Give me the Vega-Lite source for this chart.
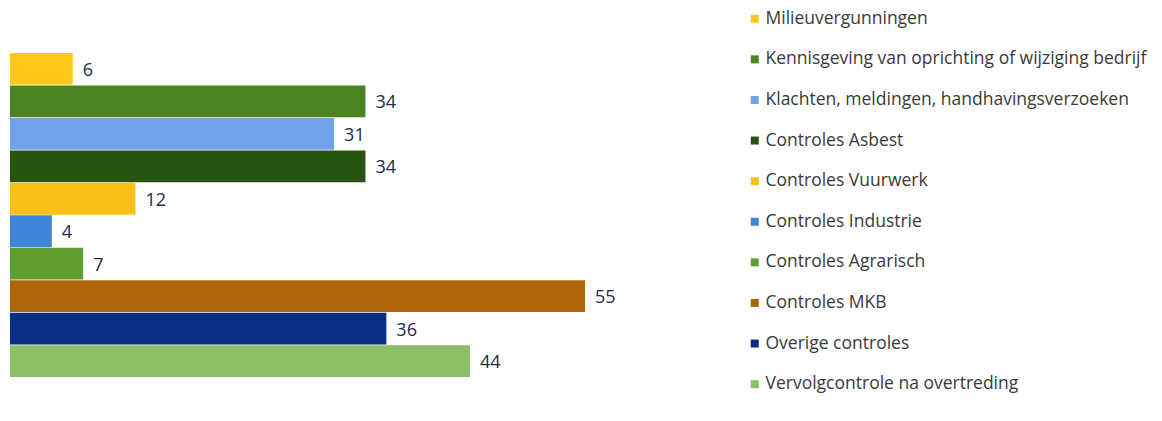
{
  "$schema": "https://vega.github.io/schema/vega-lite/v6.json",
  "autosize": "none",
  "width": 575,
  "height": 324,
  "padding": {"left": 10, "top": 53, "right": 577, "bottom": 44},
  "background": "white",
  "data": {
    "values": [
      {"categorie": "Milieuvergunningen", "aantal": 6},
      {"categorie": "Kennisgeving van oprichting of wijziging bedrijf", "aantal": 34},
      {"categorie": "Klachten, meldingen, handhavingsverzoeken", "aantal": 31},
      {"categorie": "Controles Asbest", "aantal": 34},
      {"categorie": "Controles Vuurwerk", "aantal": 12},
      {"categorie": "Controles Industrie", "aantal": 4},
      {"categorie": "Controles Agrarisch", "aantal": 7},
      {"categorie": "Controles MKB", "aantal": 55},
      {"categorie": "Overige controles", "aantal": 36},
      {"categorie": "Vervolgcontrole na overtreding", "aantal": 44}
    ]
  },
  "config": {"view": {"stroke": null}, "font": "Open Sans"},
  "encoding": {
    "y": {
      "field": "categorie",
      "type": "nominal",
      "sort": null,
      "axis": null,
      "scale": {"paddingInner": 0.02, "paddingOuter": 0}
    },
    "x": {
      "field": "aantal",
      "type": "quantitative",
      "axis": null,
      "scale": {"domain": [0, 55], "nice": false, "zero": true}
    }
  },
  "layer": [
    {
      "mark": {"type": "bar", "opacity": 1},
      "encoding": {
        "color": {
          "field": "categorie",
          "type": "nominal",
          "sort": null,
          "scale": {
            "domain": [
              "Milieuvergunningen",
              "Kennisgeving van oprichting of wijziging bedrijf",
              "Klachten, meldingen, handhavingsverzoeken",
              "Controles Asbest",
              "Controles Vuurwerk",
              "Controles Industrie",
              "Controles Agrarisch",
              "Controles MKB",
              "Overige controles",
              "Vervolgcontrole na overtreding"
            ],
            "range": ["#FFC61A", "#4B8420", "#6FA2E8", "#265410", "#FBC016", "#3D86D8", "#5E9E2E", "#AE6608", "#0A2D85", "#8FBE68"]
          },
          "legend": {
            "orient": "none",
            "legendX": 736,
            "legendY": -43,
            "title": null,
            "symbolType": "square",
            "symbolSize": 64,
            "symbolStrokeWidth": 0,
            "labelFontSize": 17.5,
            "labelFont": "Open Sans",
            "labelColor": "#3A3A3A",
            "labelLimit": 600,
            "labelOffset": 2,
            "rowPadding": 21.6,
            "padding": 0
          }
        }
      }
    },
    {
      "mark": {"type": "text", "align": "left", "baseline": "middle", "dx": 10, "dy": 2, "fontSize": 18, "color": "#25294A"},
      "encoding": {"text": {"field": "aantal", "type": "quantitative"}}
    }
  ]
}
